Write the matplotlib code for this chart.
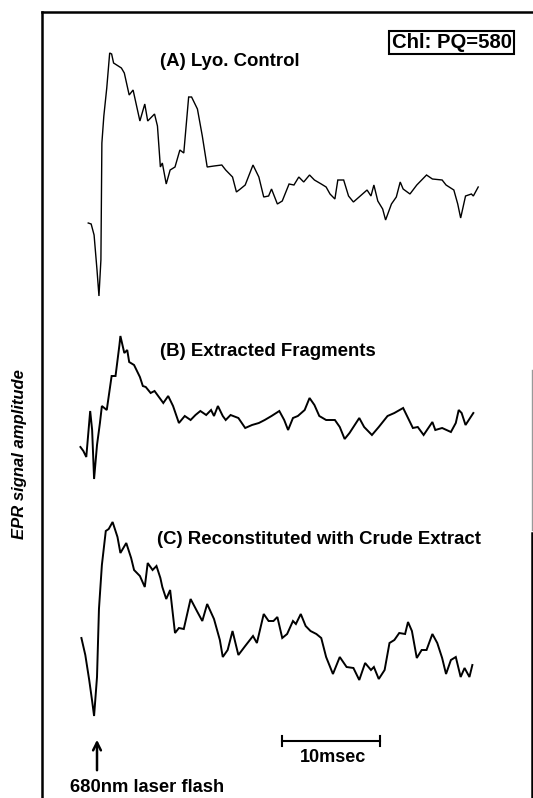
import matplotlib.pyplot as plt

# Time after the flash (msec) and signal amplitude (arb. units) for each trace

time_a = [-0.9, -0.6, -0.3, 0.0, 0.2, 0.4, 0.5, 0.7, 1.0, 1.3, 1.5, 1.7, 2.5,
          2.8, 3.3, 3.7, 4.4, 4.9, 5.2, 5.9, 6.2, 6.5, 6.7, 7.1, 7.5, 8.0,
          8.5, 8.9, 9.4, 9.7, 10.3, 10.8, 11.3, 12.0, 12.8, 13.2, 13.9, 14.3,
          14.7, 15.2, 16.0, 16.6, 17.1, 17.6, 17.9, 18.5, 19.0, 19.7, 20.2,
          20.7, 21.2, 21.8, 22.3, 23.0, 23.5, 23.9, 24.4, 24.7, 25.3, 25.8,
          26.3, 27.0, 27.7, 28.1, 28.4, 28.8, 29.3, 29.6, 30.2, 30.7, 31.1,
          31.4, 32.1, 32.8, 33.3, 33.8, 34.4, 35.4, 35.8, 36.6, 37.0, 37.3,
          37.8, 38.4, 38.6, 39.1]
signal_a = [0.0, -0.1, -1.2, -4.7, -7.3, -3.7, 8.0, 10.7, 13.5, 17.0, 16.9,
            16.0, 15.5, 15.0, 12.8, 13.3, 10.2, 11.9, 10.2, 10.9, 9.7, 5.6,
            6.0, 3.9, 5.3, 5.6, 7.3, 7.0, 12.6, 12.6, 11.4, 8.7, 5.6, 5.7,
            5.8, 5.3, 4.6, 3.1, 3.4, 3.8, 5.8, 4.6, 2.6, 2.7, 3.4, 1.9, 2.2,
            3.9, 3.8, 4.6, 4.1, 4.8, 4.3, 3.9, 3.6, 2.9, 2.4, 4.3, 4.3, 2.7,
            2.1, 2.7, 3.3, 2.7, 3.8, 2.2, 1.4, 0.3, 1.9, 2.6, 4.1, 3.4, 2.9,
            3.8, 4.3, 4.8, 4.4, 4.3, 3.8, 3.3, 1.9, 0.5, 2.7, 2.9, 2.7, 3.6]

time_b = [-1.7, -1.4, -1.1, -0.7, -0.5, -0.3, 0.0, 0.3, 0.5, 1.0, 1.5, 1.9,
          2.3, 2.4, 2.8, 3.1, 3.3, 3.8, 4.4, 4.7, 5.0, 5.5, 5.9, 6.5, 6.8,
          7.3, 7.8, 8.4, 9.0, 9.6, 10.1, 10.6, 11.2, 11.7, 12.0, 12.4, 12.9,
          13.2, 13.7, 14.5, 15.2, 15.9, 16.6, 17.2, 17.9, 18.7, 19.2, 19.6,
          20.1, 20.6, 21.3, 21.8, 22.3, 22.8, 23.5, 24.4, 24.9, 25.4, 25.9,
          26.9, 27.4, 27.7, 28.2, 28.9, 29.8, 30.5, 31.4, 31.9, 32.4, 32.9,
          33.5, 34.4, 34.7, 35.4, 36.3, 36.8, 37.1, 37.4, 37.8, 38.6]
signal_b = [0.0, -0.4, -1.0, 3.6, 1.7, -3.2, 0.2, 2.4, 4.1, 3.7, 7.1, 7.1,
            10.2, 11.1, 9.4, 9.7, 8.5, 8.2, 7.0, 6.1, 6.0, 5.4, 5.6, 4.8, 4.4,
            5.1, 4.1, 2.4, 3.1, 2.7, 3.2, 3.6, 3.2, 3.7, 3.1, 4.1, 3.1, 2.7,
            3.2, 2.9, 1.9, 2.2, 2.4, 2.7, 3.1, 3.6, 2.7, 1.7, 2.9, 3.1, 3.7,
            4.9, 4.2, 3.1, 2.7, 2.7, 2.0, 0.8, 1.4, 2.9, 2.0, 1.7, 1.2, 2.0,
            3.1, 3.4, 3.9, 2.9, 1.9, 2.0, 1.2, 2.5, 1.7, 1.9, 1.5, 2.4, 3.7,
            3.4, 2.2, 3.4]

time_c = [-1.6, -1.2, -0.8, -0.5, -0.3, 0.0, 0.2, 0.5, 0.9, 1.2, 1.6, 2.1,
          2.4, 3.0, 3.5, 3.8, 4.4, 4.9, 5.2, 5.7, 6.1, 6.5, 6.7, 7.1, 7.5,
          8.0, 8.4, 8.9, 9.6, 10.3, 10.8, 11.3, 12.0, 12.6, 12.9, 13.4, 13.9,
          14.5, 15.2, 16.0, 16.4, 17.1, 17.6, 18.1, 18.5, 19.0, 19.5, 20.1,
          20.4, 20.9, 21.4, 21.9, 22.5, 23.0, 23.5, 24.2, 24.9, 25.6, 26.3,
          26.9, 27.5, 28.1, 28.4, 28.9, 29.5, 30.0, 30.5, 31.0, 31.6, 31.9,
          32.3, 32.8, 33.3, 33.8, 34.4, 34.9, 35.4, 35.8, 36.3, 36.8, 37.3,
          37.7, 38.2, 38.5]
signal_c = [0.0, -1.7, -4.2, -6.3, -7.8, -3.9, 2.9, 7.3, 10.7, 10.9, 11.6,
            10.1, 8.5, 9.5, 8.0, 6.8, 6.2, 5.1, 7.5, 6.8, 7.2, 6.0, 5.1, 3.9,
            4.8, 0.5, 1.0, 0.9, 3.9, 2.6, 1.7, 3.4, 1.9, -0.2, -1.9, -1.2,
            0.7, -1.7, -0.8, 0.2, -0.5, 2.4, 1.7, 1.7, 2.1, 0.0, 0.4, 1.7, 1.4,
            2.4, 1.2, 0.7, 0.4, 0.0, -1.9, -3.6, -1.9, -2.9, -3.0, -4.2, -2.5,
            -3.2, -2.9, -4.1, -3.2, -0.5, -0.2, 0.5, 0.4, 1.6, 0.7, -2.0, -1.2,
            -1.2, 0.4, -0.5, -2.0, -3.6, -2.2, -1.9, -3.9, -3.0, -3.9, -2.7]

trace_labels = ['(A) Lyo. Control', '(B) Extracted Fragments',
                '(C) Reconstituted with Crude Extract']
ratio_label = 'Chl: PQ=580'

# vertical offsets of the three traces on the sheet
offsets = [57.5, 35.1, 16.0]
label_pos = [(6.45, 73.7), (6.45, 44.6), (6.15, 25.9)]
label_font = ['Liberation Sans', 'DejaVu Sans']


def draw_frame(fig):
    # hand-drawn border of the original sheet (left, top and part of right)
    fig.add_artist(plt.Line2D([0.079, 0.079], [0.0, 0.985], color='black',
                              lw=1.8))
    fig.add_artist(plt.Line2D([0.079, 1.0], [0.985, 0.985], color='black',
                              lw=1.8))
    fig.add_artist(plt.Line2D([0.998, 0.998], [0.0, 0.332], color='black',
                              lw=1.8))
    fig.add_artist(plt.Line2D([0.998, 0.998], [0.336, 0.536], color='0.6',
                              lw=1.0))


def make_plot():
    fig = plt.figure(figsize=(5.33, 7.98), dpi=100)
    ax = fig.add_axes([0, 0, 1, 1])
    ax.set_xlim(-9.95, 44.72)
    ax.set_ylim(0, 79.8)
    ax.axis('off')

    traces = [(time_a, signal_a, 1.0), (time_b, signal_b, 1.4),
              (time_c, signal_c, 1.4)]
    for (t, s, lw), off in zip(traces, offsets):
        ax.plot(t, [v + off for v in s], color='black', lw=lw,
                solid_joinstyle='miter')

    for text, (x, y) in zip(trace_labels, label_pos):
        ax.text(x, y, text, ha='left', va='center', fontsize=13.4,
                fontweight='bold', family=label_font)

    ax.text(36.4, 75.55, ratio_label, ha='center', va='center', fontsize=14.6,
            fontweight='bold', family=label_font,
            bbox=dict(boxstyle='square,pad=0.12', fc='white', ec='black',
                      lw=1.5))

    # 10 msec scale bar
    ax.plot([19.0, 29.0], [5.7, 5.7], color='black', lw=1.5)
    ax.plot([19.0, 19.0], [5.2, 6.2], color='black', lw=1.5)
    ax.plot([29.0, 29.0], [5.2, 6.2], color='black', lw=1.5)
    ax.text(24.2, 4.0, '10msec', ha='center', va='center', fontsize=13,
            fontweight='bold', family=label_font)

    # flash marker
    ax.annotate('', xy=(0.0, 6.1), xytext=(0.0, 2.5),
                arrowprops=dict(arrowstyle='->', lw=1.8, color='black',
                                mutation_scale=14))
    ax.text(-2.75, 1.1, '680nm laser flash', ha='left', va='center',
            fontsize=13.2, fontweight='bold', family=label_font)

    fig.text(0.0375, 0.431, 'EPR signal amplitude', rotation=90,
             ha='center', va='center', fontsize=12, fontweight='bold',
             style='italic', family=label_font)

    draw_frame(fig)
    fig.savefig('out.png', dpi=100)


make_plot()
